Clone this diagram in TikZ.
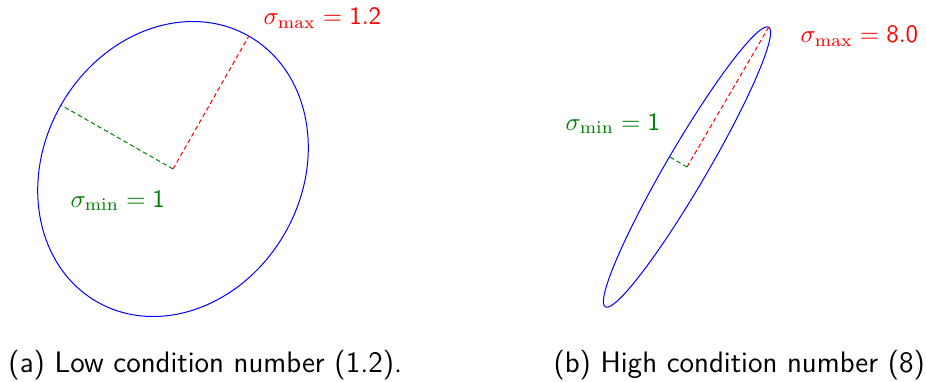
\documentclass[tikz,border=0pt]{standalone}
\usetikzlibrary{calc}
\definecolor{darkgreen}{RGB}{0,128,0}
\tikzset{
  axisline/.style={line width=0.4pt, dash pattern=on 1.8pt off 1.2pt},
  label/.style={anchor=base west, inner sep=0pt},
  caption/.style={label, font=\sffamily\fontsize{11.85pt}{14pt}\selectfont},
}
\begin{document}
\begin{tikzpicture}[x=0.4pt, y=0.4pt]
\useasboundingbox (0,0) rectangle (926,381);
% (a) low condition number
\coordinate (cA) at (173,212);
\coordinate (maxA) at ($(cA)+(60.3:153)$);
\coordinate (minA) at ($(cA)+(150.3:129)$);
\draw[blue, line width=0.4pt, rotate around={60.3:(cA)}] (cA) ellipse [x radius=153, y radius=129];
\draw[axisline, red] (cA) -- (maxA);
\draw[axisline, darkgreen] (cA) -- (minA);
\node[label, red] (lmaxA) at (263,356) {$\sigma_{\mathrm{max}} = \mathsf{1.2}$};
\node[label, darkgreen] (lminA) at (70,174) {$\sigma_{\mathrm{min}} = \mathsf{1}$};
% (b) high condition number
\coordinate (cB) at (687,214);
\coordinate (maxB) at ($(cB)+(59.7:162)$);
\coordinate (minB) at ($(cB)+(149.7:20.3)$);
\draw[blue, line width=0.4pt, rotate around={59.7:(cB)}] (cB) ellipse [x radius=162, y radius=20.3];
\draw[axisline, red] (cB) -- (maxB);
\draw[axisline, darkgreen] (cB) -- (minB);
\node[label, red] (lmaxB) at (800,338) {$\sigma_{\mathrm{max}} = \mathsf{8.0}$};
\node[label, darkgreen] (lminB) at (565,251) {$\sigma_{\mathrm{min}} = \mathsf{1}$};
% captions
\node[caption] (capA) at (8,9) {(a) Low condition number (1.2).};
\node[caption] (capB) at (553,9) {(b) High condition number (8)};
\end{tikzpicture}
\end{document}
